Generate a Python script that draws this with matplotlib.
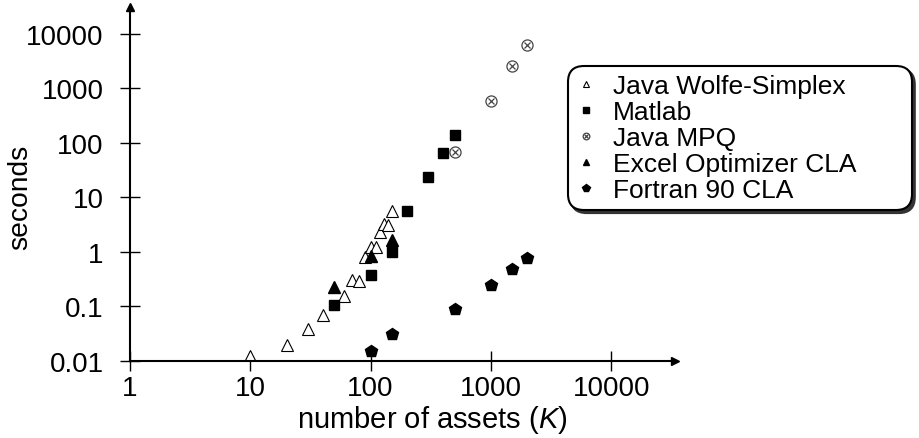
import matplotlib.pyplot as plt
from matplotlib.legend_handler import HandlerTuple

plt.rcParams['font.family'] = ['Liberation Sans', 'DejaVu Sans']
plt.rcParams['mathtext.fontset'] = 'custom'
plt.rcParams['mathtext.it'] = 'Liberation Sans:italic'

# Data
wolfe_k = [10, 20, 30, 40, 60, 70, 80, 90, 100, 110, 120, 130, 140, 150]
wolfe_t = [0.0125, 0.02, 0.039, 0.07, 0.154, 0.31, 0.29, 0.82, 1.25, 1.25, 2.36, 3.26, 3.1, 5.6]

matlab_k = [50, 100, 150, 200, 300, 400, 500]
matlab_t = [0.107, 0.38, 0.99, 5.6, 24, 66, 140]

mpq_k = [500, 1000, 1500, 2000]
mpq_t = [69, 590, 2550, 6290]

excel_k = [50, 100, 150]
excel_t = [0.23, 0.83, 1.66]

fortran_k = [100, 150, 500, 1000, 1500, 2000]
fortran_t = [0.0155, 0.031, 0.09, 0.25, 0.49, 0.78]

xticks = [1, 10, 100, 1000, 10000]
yticks = [0.01, 0.1, 1, 10, 100, 1000, 10000]
ytick_labels = ['0.01', '0.1', '1', '10', '100', '1000', '10000']

fig = plt.figure(figsize=(9.19, 4.39), dpi=100)
ax = fig.add_axes([130 / 919, (439 - 362) / 439, 545 / 919, 354 / 439])
ax.set_xscale('log')
ax.set_yscale('log')
ax.set_xlim(1, 10 ** 4.53)
ax.set_ylim(0.01, 10 ** 4.495)

h1, = ax.plot(wolfe_k, wolfe_t, '^', ms=8, mfc='white', mec='black', mew=0.8, ls='none')
h2, = ax.plot(matlab_k, matlab_t, 's', ms=6.5, color='black', ls='none')
h3a, = ax.plot(mpq_k, mpq_t, 'o', ms=8, mfc='none', mec='#444444', mew=0.9, ls='none')
h3b, = ax.plot(mpq_k, mpq_t, 'x', ms=5, mec='#444444', mew=0.9, ls='none')
h4, = ax.plot(excel_k, excel_t, '^', ms=8, color='black', ls='none')
h5, = ax.plot(fortran_k, fortran_t, 'p', ms=9, color='black', ls='none')

for s in ['top', 'right']:
    ax.spines[s].set_visible(False)
ax.spines['left'].set_linewidth(1.5)
ax.spines['bottom'].set_linewidth(1.5)

# arrow heads on the axes
ax.plot(1, 0, '>', transform=ax.transAxes, color='black', ms=6, clip_on=False)
ax.plot(0, 1, '^', transform=ax.transAxes, color='black', ms=6, clip_on=False)

ax.set_xticks(xticks)
ax.set_xticklabels([str(v) for v in xticks])
ax.set_yticks(yticks)
ax.set_yticklabels(ytick_labels)
ax.minorticks_off()
ax.tick_params(direction='inout', length=14, width=1, labelsize=20)
ax.tick_params(axis='x', pad=3)
ax.tick_params(axis='y', pad=12)

ax.set_xlabel('number of assets ($K$)', fontsize=21)
ax.set_ylabel('seconds', fontsize=20.3)
ax.xaxis.set_label_coords(0.555, -0.118)
ax.yaxis.set_label_coords(-0.178, 0.466)

leg = ax.legend([h1, h2, (h3a, h3b), h4, h5],
                ['Java Wolfe-Simplex', 'Matlab', 'Java MPQ', 'Excel Optimizer CLA', 'Fortran 90 CLA'],
                handler_map={tuple: HandlerTuple(ndivide=1, pad=0)},
                loc='upper left', mode='expand',
                bbox_to_anchor=(568 / 919, 1 - 210 / 439, 344 / 919, 143 / 439),
                bbox_transform=fig.transFigure, borderaxespad=0,
                fontsize=19, markerscale=0.6,
                handlelength=0.8, handletextpad=0.6, labelspacing=0.08,
                borderpad=0.3, framealpha=1,
                shadow={'color': '#333333', 'alpha': 1}, edgecolor='black')
leg.get_frame().set_linewidth(1.5)
leg.get_frame().set_boxstyle('round,pad=0,rounding_size=0.6')

plt.savefig('out.png', dpi=100)
